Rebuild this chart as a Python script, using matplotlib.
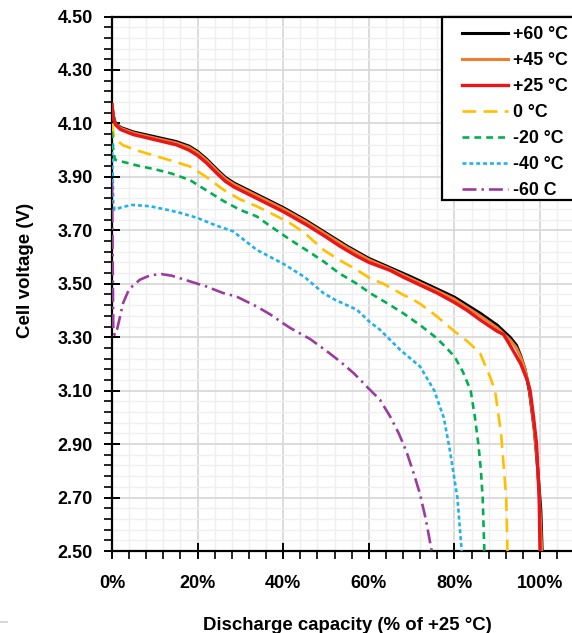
import matplotlib
import matplotlib.pyplot as plt
from matplotlib.lines import Line2D
from matplotlib.patches import Rectangle
from matplotlib.ticker import MultipleLocator, PercentFormatter, FormatStrFormatter

matplotlib.use("agg")

plt.rcParams["font.family"] = ["Liberation Sans", "DejaVu Sans"]
plt.rcParams["font.weight"] = "bold"

# discharge capacity (% of +25 C) and cell voltage (V) per temperature
x_p60 = [0, 0.3, 0.8, 2, 5, 10, 15, 18, 20, 22, 24.5, 26.5, 28.5, 31, 35, 40, 45, 50, 55,
         60, 65, 70, 76, 80, 86, 90, 93, 94.5, 95.5, 96.5, 97.5, 98.7, 99.5, 100.2, 100.5]
v_p60 = [4.17, 4.13, 4.10, 4.085, 4.068, 4.05, 4.032, 4.015, 3.995, 3.968, 3.928, 3.898,
         3.877, 3.857, 3.825, 3.785, 3.74, 3.69, 3.64, 3.595, 3.56, 3.525, 3.48, 3.45,
         3.39, 3.345, 3.30, 3.27, 3.23, 3.18, 3.10, 2.95, 2.80, 2.65, 2.50]

x_p45 = [0, 0.3, 0.8, 2, 5, 10, 15, 18, 20, 22, 24.5, 26.5, 28.5, 31, 35, 40, 45, 50, 55,
         60, 65, 70, 76, 80, 86, 90, 93, 94.5, 95.5, 96.5, 97.5, 98.5, 99.3, 100, 100.4]
v_p45 = [4.17, 4.125, 4.098, 4.082, 4.064, 4.045, 4.027, 4.01, 3.99, 3.963, 3.923, 3.893,
         3.872, 3.852, 3.82, 3.78, 3.735, 3.685, 3.635, 3.59, 3.555, 3.518, 3.473, 3.442,
         3.38, 3.335, 3.29, 3.26, 3.225, 3.18, 3.11, 2.98, 2.85, 2.65, 2.50]

x_p25 = [0, 0.3, 0.8, 2, 5, 10, 15, 18, 20, 22, 24.5, 26.5, 28.5, 31, 35, 40, 45.5, 50,
         53.3, 57, 60, 65, 68, 72, 76, 80, 83, 86, 90, 91.5, 93, 95.5, 97, 97.7, 98.5,
         99.2, 99.8, 100]
v_p25 = [4.17, 4.12, 4.095, 4.077, 4.058, 4.039, 4.02, 4.00, 3.98, 3.953, 3.913, 3.883,
         3.862, 3.842, 3.81, 3.77, 3.72, 3.675, 3.64, 3.605, 3.58, 3.55, 3.525, 3.495,
         3.465, 3.43, 3.40, 3.365, 3.322, 3.31, 3.27, 3.20, 3.14, 3.10, 3.00, 2.90, 2.70,
         2.50]

x_0 = [0, 0.5, 2.6, 6, 10.4, 14, 18.2, 22, 26, 30, 33.8, 37, 41.6, 45, 49.4, 53, 57.2,
       60.3, 63.4, 68, 70.4, 72, 75.9, 80, 83, 86, 88.3, 89.5, 90.9, 91.6, 92.1, 92.4]
v_0 = [4.10, 4.045, 4.018, 3.998, 3.977, 3.96, 3.939, 3.90, 3.852, 3.815, 3.79, 3.765,
       3.727, 3.69, 3.627, 3.59, 3.552, 3.52, 3.50, 3.459, 3.44, 3.425, 3.378, 3.322,
       3.285, 3.24, 3.153, 3.10, 2.94, 2.80, 2.70, 2.50]

x_m20 = [0, 0.3, 0.7, 2.6, 6, 10.4, 14, 18.2, 22, 26, 30, 33.8, 37.5, 41.6, 45.5, 49.4,
         53, 57.2, 60.3, 64.2, 68, 72, 75.9, 78, 80, 82, 83.8, 84.8, 85.6, 86.2, 86.6, 87]
v_m20 = [4.07, 4.00, 3.964, 3.956, 3.942, 3.927, 3.912, 3.888, 3.85, 3.81, 3.776, 3.752,
         3.71, 3.665, 3.625, 3.584, 3.54, 3.50, 3.465, 3.428, 3.39, 3.345, 3.296, 3.262,
         3.228, 3.17, 3.10, 3.00, 2.90, 2.80, 2.70, 2.50]

x_m40 = [0, 0.3, 0.6, 2, 4.6, 8.9, 12.8, 16, 20, 24, 28.3, 33.8, 37, 40, 45, 49.4, 52.1,
         57.2, 60, 62.6, 67.3, 72, 75.3, 77.5, 78.8, 80.7, 81.7]
v_m40 = [4.02, 3.80, 3.777, 3.785, 3.795, 3.79, 3.777, 3.765, 3.746, 3.72, 3.696, 3.627,
         3.60, 3.575, 3.525, 3.465, 3.44, 3.403, 3.36, 3.328, 3.253, 3.19, 3.10, 3.00,
         2.89, 2.70, 2.50]

x_m60 = [0, 0.3, 0.6, 1.2, 2.6, 4, 6.5, 9, 11.6, 14, 18.2, 22, 26, 29.1, 33.8, 37, 39.9,
         41.6, 46.3, 50, 53.3, 56.5, 59.9, 62.6, 65, 67, 68.8, 70.5, 71.9, 73.3, 74.7]
v_m60 = [3.88, 3.33, 3.309, 3.33, 3.428, 3.48, 3.515, 3.532, 3.536, 3.53, 3.509, 3.49,
         3.465, 3.452, 3.415, 3.385, 3.353, 3.335, 3.293, 3.25, 3.209, 3.165, 3.109,
         3.066, 3.003, 2.94, 2.872, 2.79, 2.717, 2.62, 2.50]

labels = ["+60 °C", "+45 °C", "+25 °C", "0 °C", "-20 °C", "-40 °C", "-60 C"]
colors = ["#000000", "#ED7D31", "#E8161B", "#FFC000", "#00B050", "#1FB2EC", "#9C3B9E"]
series = [(x_p60, v_p60), (x_p45, v_p45), (x_p25, v_p25), (x_0, v_0),
          (x_m20, v_m20), (x_m40, v_m40), (x_m60, v_m60)]

x_ticks = [0, 20, 40, 60, 80, 100]
y_ticks = [2.50, 2.70, 2.90, 3.10, 3.30, 3.50, 3.70, 3.90, 4.10, 4.30, 4.50]

fig = plt.figure(figsize=(5.72, 6.33), dpi=100)
ax = fig.add_axes([112 / 572, 82 / 633, 513.6 / 572, 534.5 / 633])

styles = [
    dict(lw=2.2, ls="-"),
    dict(lw=2.2, ls="-"),
    dict(lw=2.4, ls="-"),
    dict(lw=1.9, ls=(0, (5.2, 2.8))),
    dict(lw=1.9, ls=(0, (2.6, 1.9))),
    dict(lw=1.9, ls=(0, (1.5, 1.1))),
    dict(lw=1.9, ls=(0, (5.3, 1.9, 0.9, 1.9))),
]

handles = []
for (xs, vs), lab, col, st in zip(series, labels, colors, styles):
    ln, = ax.plot(xs, vs, color=col, label=lab, zorder=3, **st)
    handles.append(ln)

ax.set_xlim(0, 120)
ax.set_ylim(2.5, 4.5)
ax.set_xticks(x_ticks)
ax.set_yticks(y_ticks)
ax.xaxis.set_minor_locator(MultipleLocator(4))
ax.yaxis.set_minor_locator(MultipleLocator(0.04, offset=0.02))
ax.xaxis.set_major_formatter(PercentFormatter(decimals=0))
ax.yaxis.set_major_formatter(FormatStrFormatter("%.2f"))

ax.grid(which="major", color="#d9d9d9", lw=1.3, zorder=0)
ax.grid(which="minor", color="#efefef", lw=1.0, zorder=0)
ax.set_axisbelow(True)

ax.tick_params(which="major", direction="inout", length=12, width=1.4,
               labelsize=13, color="black")
ax.tick_params(which="minor", direction="out", length=6, width=1.2, color="black")
ax.tick_params(axis="y", which="major", pad=8)
ax.tick_params(axis="x", which="major", pad=11)
for lab in ax.get_xticklabels() + ax.get_yticklabels():
    lab.set_fontweight("bold")

for side in ["left", "bottom", "top"]:
    ax.spines[side].set_color("black")
    ax.spines[side].set_linewidth(1.6)
ax.spines["right"].set_visible(False)

# legend frame running past the right edge
y0 = 351 / 534.5
ax.add_patch(Rectangle((330 / 513.6, y0), 0.5, 1 - y0, transform=ax.transAxes,
                       facecolor="white", edgecolor="black", lw=1.6, zorder=4,
                       clip_on=False))
leg = ax.legend(handles=handles, loc="upper left",
                bbox_to_anchor=(341 / 513.6, 1 - 1 / 534.5), frameon=False,
                borderpad=0, handlelength=2.6, handletextpad=0.25,
                labelspacing=0.5, prop={"weight": "bold", "size": 12.8})
leg.set_zorder(5)

fig.text(25.5 / 572, 1 - 270 / 633, "Cell voltage (V)", rotation=90,
         ha="center", va="center", fontsize=13.5, fontweight="bold")
fig.text(347 / 572, 1 - 630 / 633, "Discharge capacity (% of +25 °C)",
         ha="center", va="baseline", fontsize=13.4, fontweight="bold")

fig.add_artist(Line2D([0, 7 / 572], [1 - 621.7 / 633] * 2, color="#d0d0d0", lw=1.2))

fig.savefig("out.png", dpi=100)
plt.close(fig)
